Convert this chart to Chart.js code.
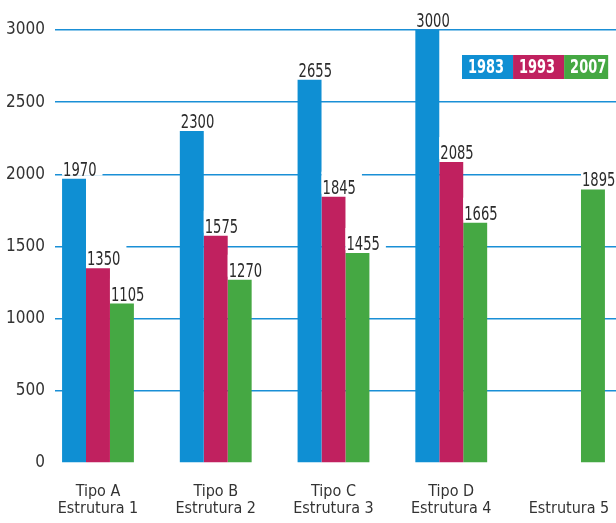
<!DOCTYPE html>
<html><head><meta charset="utf-8">
<script src="https://cdn.jsdelivr.net/npm/chart.js@4.4.0/dist/chart.umd.min.js"></script>
<style>html,body{margin:0;padding:0;background:#fff;overflow:hidden}#wrap{width:616px;height:523px;position:relative}</style>
</head><body><div id="wrap"><canvas id="c" width="616" height="523"></canvas></div>
<script>
const categories = [["Tipo A","Estrutura 1"],["Tipo B","Estrutura 2"],["Tipo C","Estrutura 3"],["Tipo D","Estrutura 4"],["","Estrutura 5"]];
const seriesNames = ["1983","1993","2007"];
const values1983 = [1970, 2300, 2655, 3000, null];
const values1993 = [1350, 1575, 1845, 2085, null];
const values2007 = [1105, 1270, 1455, 1665, 1895];
const yTicks = [0, 500, 1000, 1500, 2000, 2500, 3000];

const FONT = "'DejaVu Sans Condensed', 'DejaVu Sans', sans-serif";
const colors = ['#0f8fd3', '#c0215f', '#45a843'];
const toPts = arr => arr.map((v, i) => ({x: i, y: v}));
const SQ = 0.73; // horizontal squeeze for custom-drawn condensed text

const labelPlugin = {
  id: 'valueLabels',
  afterDatasetsDraw(chart) {
    const ctx = chart.ctx;
    ctx.save();
    ctx.font = '20px ' + FONT;
    ctx.textBaseline = 'alphabetic';
    ctx.textAlign = 'left';
    chart.data.datasets.forEach((ds, di) => {
      const meta = chart.getDatasetMeta(di);
      meta.data.forEach((bar, i) => {
        const v = ds.data[i].y;
        if (v === null || v === undefined) return;
        const left = bar.x - bar.width / 2;
        const txt = String(v);
        const w = ctx.measureText(txt).width * SQ;
        const base = bar.y - 3;
        ctx.fillStyle = '#fff';
        ctx.fillRect(left, base - 22, w + 7, 22);
        ctx.save();
        ctx.translate(left + 1, base);
        ctx.scale(SQ, 1);
        ctx.fillStyle = '#2b2b2b';
        ctx.fillText(txt, 0, 0);
        ctx.restore();
      });
    });
    ctx.restore();
  }
};

const legendPlugin = {
  id: 'boxLegend',
  afterDraw(chart) {
    const ctx = chart.ctx;
    ctx.save();
    ctx.font = 'bold 20px ' + FONT;
    ctx.textBaseline = 'middle';
    ctx.textAlign = 'left';
    let x = 462;
    const y = 55, h = 24;
    chart.data.datasets.forEach((ds, i) => {
      const tw = ctx.measureText(ds.label).width * 0.72;
      const w = i === chart.data.datasets.length - 1 ? tw + 8 : tw + 15;
      ctx.fillStyle = ds.backgroundColor;
      ctx.fillRect(x, y, w, h);
      ctx.save();
      ctx.translate(x + 6, y + h / 2 + 1);
      ctx.scale(0.72, 1);
      ctx.fillStyle = '#fff';
      ctx.fillText(ds.label, 0, 0);
      ctx.restore();
      x += w;
    });
    ctx.restore();
  }
};

new Chart(document.getElementById('c'), {
  type: 'bar',
  data: {
    datasets: [
      {label: seriesNames[0], data: toPts(values1983), backgroundColor: colors[0]},
      {label: seriesNames[1], data: toPts(values1993), backgroundColor: colors[1]},
      {label: seriesNames[2], data: toPts(values2007), backgroundColor: colors[2]}
    ]
  },
  options: {
    responsive: false,
    animation: false,
    devicePixelRatio: 1,
    layout: {padding: {top: 30, right: 0, bottom: 0, left: 0}},
    datasets: {bar: {barPercentage: 1, categoryPercentage: 0.61, borderWidth: 0}},
    plugins: {legend: {display: false}, tooltip: {enabled: false}},
    scales: {
      x: {
        type: 'linear',
        offset: false,
        min: -0.365,
        max: 4.399,
        grid: {display: false, drawTicks: false, offset: false},
        border: {display: false},
        afterBuildTicks: s => { s.ticks = categories.map((_, i) => ({value: i})); },
        afterFit: s => { s.height = 60; s.paddingLeft = 0; s.paddingRight = 0; },
        ticks: {
          autoSkip: false, maxRotation: 0, padding: 20,
          color: '#333',
          font: {family: FONT, size: 16, lineHeight: 1.06},
          callback: v => categories[v] || ''
        }
      },
      y: {
        min: 0, max: 3000,
        afterBuildTicks: s => { s.ticks = yTicks.map(v => ({value: v})); },
        afterFit: s => { s.width = 55; },
        grid: {
          drawTicks: false,
          lineWidth: 1.6,
          color: c => (c.tick && c.tick.value === 0) ? 'rgba(0,0,0,0)' : '#1a8fd6'
        },
        border: {display: false},
        ticks: {
          padding: 10, color: '#333',
          font: {family: FONT, size: 17},
          callback: v => String(v)
        }
      }
    }
  },
  plugins: [labelPlugin, legendPlugin]
});
</script>
</body></html>
